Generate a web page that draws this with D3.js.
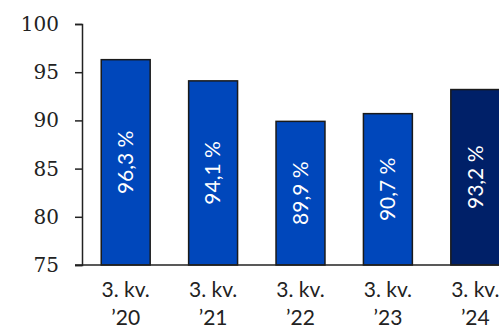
<!DOCTYPE html>
<html>
<head>
<meta charset="utf-8">
<script src="https://cdn.jsdelivr.net/npm/d3@7"></script>
<style>
  body { margin: 0; background: #fff; }
  svg { display: block; }
</style>
</head>
<body>
<div id="chart"></div>
<script>
var W = 499, H = 325;

// data
var quarters = ["3. kv.|’20", "3. kv.|’21", "3. kv.|’22", "3. kv.|’23", "3. kv.|’24"];
var values = [96.3, 94.1, 89.9, 90.7, 93.2];
var valueLabels = ["96,3 %", "94,1 %", "89,9 %", "90,7 %", "93,2 %"];
var yTicks = [75, 80, 85, 90, 95, 100];

var svg = d3.select("#chart").append("svg")
    .attr("width", W)
    .attr("height", H);

var x = d3.scaleBand()
    .domain(quarters)
    .range([82, 519])
    .paddingInner(0.44)
    .paddingOuter(0.22);

var y = d3.scaleLinear()
    .domain([75, 100])
    .range([265, 24]);

// y axis
var yAxis = svg.append("g")
    .attr("transform", "translate(82,0)")
    .call(d3.axisLeft(y).tickValues(yTicks).tickSize(7).tickPadding(16));
yAxis.select(".domain").attr("stroke", "#222").attr("stroke-width", 1.5);
yAxis.selectAll(".tick line").attr("stroke", "#222").attr("stroke-width", 1.5);
yAxis.selectAll(".tick text")
    .attr("font-family", "'DejaVu Serif', serif")
    .attr("font-size", "20px")
    .attr("fill", "#222");

// bars
svg.selectAll("rect.bar")
    .data(values)
    .enter().append("rect")
    .attr("class", "bar")
    .attr("x", function(d, i) { return x(quarters[i]); })
    .attr("y", function(d) { return y(d); })
    .attr("width", x.bandwidth())
    .attr("height", function(d) { return y(75) - y(d); })
    .attr("fill", function(d, i) { return i === values.length - 1 ? "#002068" : "#0047BB"; })
    .attr("stroke", "#1a1a1a")
    .attr("stroke-width", 1.5);

// value labels inside bars
svg.selectAll("text.val")
    .data(values)
    .enter().append("text")
    .attr("class", "val")
    .attr("transform", function(d, i) {
        var cx = x(quarters[i]) + x.bandwidth() / 2;
        var cy = (y(d) + y(75)) / 2;
        return "translate(" + cx + "," + cy + ") rotate(-90)";
    })
    .attr("text-anchor", "middle")
    .attr("dy", "0.35em")
    .attr("font-family", "Lato, sans-serif")
    .attr("font-size", "21px")
    .attr("fill", "#fff")
    .text(function(d, i) { return valueLabels[i]; });

// bottom axis line
svg.append("line")
    .attr("x1", 75).attr("x2", W)
    .attr("y1", y(75)).attr("y2", y(75))
    .attr("stroke", "#222")
    .attr("stroke-width", 1.5);

// category labels
var cat = svg.selectAll("text.cat")
    .data(quarters)
    .enter().append("text")
    .attr("class", "cat")
    .attr("x", function(d) { return x(d) + x.bandwidth() / 2; })
    .attr("y", 297)
    .attr("text-anchor", "middle")
    .attr("font-family", "Lato, sans-serif")
    .attr("font-size", "21px")
    .attr("fill", "#222");
cat.append("tspan")
    .attr("x", function(d) { return x(d) + x.bandwidth() / 2; })
    .text(function(d) { return d.split("|")[0]; });
cat.append("tspan")
    .attr("x", function(d) { return x(d) + x.bandwidth() / 2; })
    .attr("dy", 28)
    .text(function(d) { return d.split("|")[1]; });
</script>
</body>
</html>
